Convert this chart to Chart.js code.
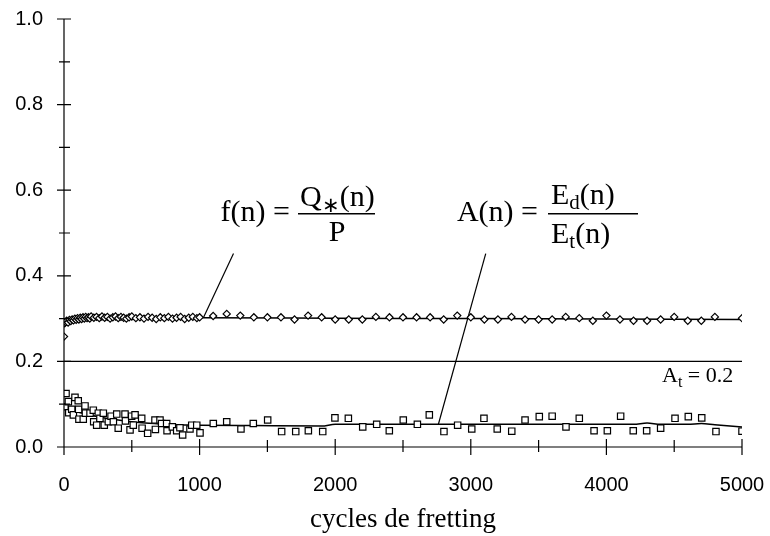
<!DOCTYPE html>
<html><head><meta charset="utf-8">
<script src="https://cdn.jsdelivr.net/npm/chart.js@4/dist/chart.umd.min.js"></script>
<style>html,body{margin:0;padding:0;background:#fff}#wrap{width:770px;height:536px}</style>
</head><body><div id="wrap"><canvas id="c" width="770" height="536"></canvas></div>
<script>
// ---- data ----
const fCycles = [0,5,10,20,30,40,50,60,70,80,90,100,110,120,130,140,150,160,170,180,190,200,220,240,260,280,300,320,340,360,380,400,420,440,460,480,500,530,560,590,620,650,680,710,740,770,800,830,860,890,920,950,980,1000,1100,1200,1300,1400,1500,1600,1700,1800,1900,2000,2100,2200,2300,2400,2500,2600,2700,2800,2900,3000,3100,3200,3300,3400,3500,3600,3700,3800,3900,4000,4100,4200,4300,4400,4500,4600,4700,4800,5000];
const fValues = [0.258,0.289,0.292,0.295,0.291,0.297,0.294,0.298,0.296,0.300,0.297,0.301,0.298,0.302,0.299,0.303,0.300,0.304,0.301,0.303,0.300,0.305,0.302,0.304,0.301,0.305,0.302,0.304,0.300,0.303,0.305,0.301,0.304,0.302,0.300,0.303,0.305,0.301,0.303,0.300,0.304,0.302,0.299,0.303,0.301,0.304,0.300,0.302,0.304,0.299,0.302,0.304,0.301,0.303,0.306,0.311,0.307,0.303,0.303,0.303,0.298,0.307,0.303,0.298,0.298,0.298,0.304,0.303,0.303,0.303,0.303,0.298,0.307,0.303,0.298,0.298,0.304,0.298,0.298,0.298,0.304,0.301,0.295,0.307,0.298,0.295,0.295,0.298,0.304,0.295,0.295,0.304,0.301];

const aCycles = [7,15,32,35,57,69,81,105,108,110,142,155,158,192,216,219,241,253,265,290,297,327,347,364,389,400,450,453,487,499,511,524,573,576,617,671,674,708,720,757,760,799,831,855,875,929,942,979,1003,1101,1200,1305,1396,1502,1605,1709,1802,1908,1998,2097,2203,2306,2399,2502,2606,2694,2802,2903,3007,3097,3195,3302,3400,3505,3600,3702,3800,3909,4007,4105,4198,4297,4400,4506,4604,4703,4808,5000];
const aValues = [0.094,0.125,0.106,0.080,0.088,0.075,0.116,0.108,0.088,0.065,0.065,0.096,0.079,0.079,0.086,0.059,0.051,0.079,0.067,0.079,0.051,0.059,0.072,0.059,0.077,0.044,0.077,0.061,0.040,0.072,0.051,0.075,0.067,0.044,0.032,0.063,0.041,0.063,0.055,0.055,0.038,0.047,0.038,0.045,0.028,0.042,0.051,0.051,0.033,0.055,0.059,0.042,0.055,0.063,0.036,0.036,0.038,0.036,0.068,0.067,0.047,0.053,0.038,0.063,0.053,0.075,0.036,0.051,0.042,0.067,0.042,0.037,0.063,0.071,0.072,0.047,0.067,0.038,0.038,0.072,0.038,0.038,0.044,0.067,0.071,0.068,0.036,0.037];

const fFitCycles = [0,50,100,200,400,1000,2000,3000,4000,5000];
const fFitValues = [0.285,0.293,0.298,0.301,0.302,0.302,0.301,0.300,0.299,0.298];
const aFitCycles = [0,100,200,300,400,500,600,700,800,1000,1400,1900,2000,3000,4200,4300,4400,4600,4700,4800,5000];
const aFitValues = [0.092,0.082,0.074,0.068,0.063,0.059,0.056,0.054,0.052,0.051,0.050,0.049,0.053,0.053,0.053,0.056,0.053,0.053,0.055,0.052,0.047];

const thresholdCycles = [0,5000];
const thresholdValues = [0.2,0.2];

// leader lines from the formulas to the curves
const fLeaderCycles = [1028,1250];
const fLeaderValues = [0.302,0.452];
const aLeaderCycles = [2760,3110];
const aLeaderValues = [0.052,0.452];

const xTickValues = [0,1000,2000,3000,4000,5000];
const yTickValues = [0,0.2,0.4,0.6,0.8,1.0];

const xTitle = 'cycles de fretting';

function pts(xs, ys){ return xs.map((x,i)=>({x:x,y:ys[i]})); }

const axesPlugin = {
  id:'axesPlugin',
  afterDraw(chart){
    const ctx = chart.ctx, xs = chart.scales.x, ys = chart.scales.y;
    const x0 = xs.getPixelForValue(0), x1 = xs.getPixelForValue(5000);
    const y0 = ys.getPixelForValue(0), y1 = ys.getPixelForValue(1);
    ctx.save();
    ctx.strokeStyle = '#000'; ctx.lineWidth = 1.2;
    ctx.beginPath();
    ctx.moveTo(x0, y1); ctx.lineTo(x0, y0);
    ctx.moveTo(x0, y0); ctx.lineTo(x1, y0);
    for (let v=0; v<=1.0001; v+=0.1){
      const y = ys.getPixelForValue(v);
      const major = Math.round(v*10)%2===0;
      ctx.moveTo(x0-(major?7:5), y); ctx.lineTo(x0+(major?7:6), y);
    }
    for (let v=0; v<=5000; v+=500){
      const x = xs.getPixelForValue(v);
      const major = v%1000===0;
      ctx.moveTo(x, y0-(major?8:7)); ctx.lineTo(x, y0+(major?8:5));
    }
    ctx.stroke();

    // formulas
    ctx.fillStyle = '#000';
    const F = '30px "Liberation Serif"';
    const FS = '21px "Liberation Serif"';
    function t(s,x,y,font,align){ ctx.font=font; ctx.textAlign=align||'left'; ctx.textBaseline='alphabetic'; ctx.fillText(s,x,y); return ctx.measureText(s).width; }
    // f(n) = Q*(n) / P
    t('f(n) =', 290, 221, F, 'right');
    let x = 300;
    x += t('Q', x, 206, F);
    x += t('\u2217', x, 212, FS);
    t('(n)', x, 206, F);
    ctx.fillRect(298, 213, 77, 1.5);
    t('P', 337, 241, F, 'center');
    // A(n) = Ed(n) / Et(n)
    t('A(n) =', 538, 221, F, 'right');
    x = 551;
    x += t('E', x, 204, F);
    x += t('d', x, 209, FS);
    t('(n)', x, 204, F);
    ctx.fillRect(548, 213, 90, 1.5);
    x = 551;
    x += t('E', x, 243, F);
    x += t('t', x, 248, FS);
    t('(n)', x, 243, F);
    // At = 0.2
    const G = '22px "Liberation Serif"';
    x = 662;
    x += t('A', x, 382, G);
    x += t('t', x, 387, '16px "Liberation Serif"');
    t(' = 0.2', x, 382, G);
    ctx.restore();
  }
};

const black = '#000';
new Chart(document.getElementById('c'), {
  type:'scatter',
  data:{ datasets:[
    {label:'f(n)', data:pts(fCycles,fValues), pointStyle:'rectRot', pointRadius:3.6, borderWidth:1.2, borderColor:black, backgroundColor:'#fff', showLine:false, order:0},
    {label:'A(n)', data:pts(aCycles,aValues), pointStyle:'rect', pointRadius:4.5, borderWidth:1.2, borderColor:black, backgroundColor:'#fff', showLine:false, order:0},
    {label:'f lissé', data:pts(fFitCycles,fFitValues), showLine:true, pointRadius:0, borderWidth:1.5, borderColor:black, cubicInterpolationMode:'monotone', order:2},
    {label:'A lissé', data:pts(aFitCycles,aFitValues), showLine:true, pointRadius:0, borderWidth:1.5, borderColor:black, cubicInterpolationMode:'monotone', order:2},
    {label:'At', data:pts(thresholdCycles,thresholdValues), showLine:true, pointRadius:0, borderWidth:1.2, borderColor:black, order:2},
    {label:'fLeader', data:pts(fLeaderCycles,fLeaderValues), showLine:true, pointRadius:0, borderWidth:1.2, borderColor:black, order:2},
    {label:'aLeader', data:pts(aLeaderCycles,aLeaderValues), showLine:true, pointRadius:0, borderWidth:1.2, borderColor:black, order:2}
  ]},
  options:{
    responsive:false, animation:false, devicePixelRatio:1,
    layout:{padding:{top:19,right:28,bottom:0,left:0}},
    plugins:{legend:{display:false}, tooltip:{enabled:false}},
    scales:{
      x:{type:'linear', min:0, max:5000,
        afterFit:s=>{s.height=89;},
        afterBuildTicks:s=>{s.ticks=xTickValues.map(v=>({value:v}));},
        grid:{display:false, drawTicks:true, tickLength:26}, border:{display:false},
        ticks:{padding:0, color:'#000', font:{family:'"Liberation Sans"', size:20}, maxRotation:0, callback:v=>String(v)},
        title:{display:true, text:xTitle, color:'#000', font:{family:'"Liberation Serif"', size:27}, padding:{top:0,bottom:0}}
      },
      y:{type:'linear', min:0, max:1,
        afterFit:s=>{s.width=64;},
        afterBuildTicks:s=>{s.ticks=yTickValues.map(v=>({value:v}));},
        grid:{display:false, drawTicks:true, tickLength:21}, border:{display:false},
        ticks:{padding:0, color:'#000', font:{family:'"Liberation Sans"', size:20}, callback:v=>Number(v).toFixed(1)}
      }
    }
  },
  plugins:[axesPlugin]
});
</script></body></html>
